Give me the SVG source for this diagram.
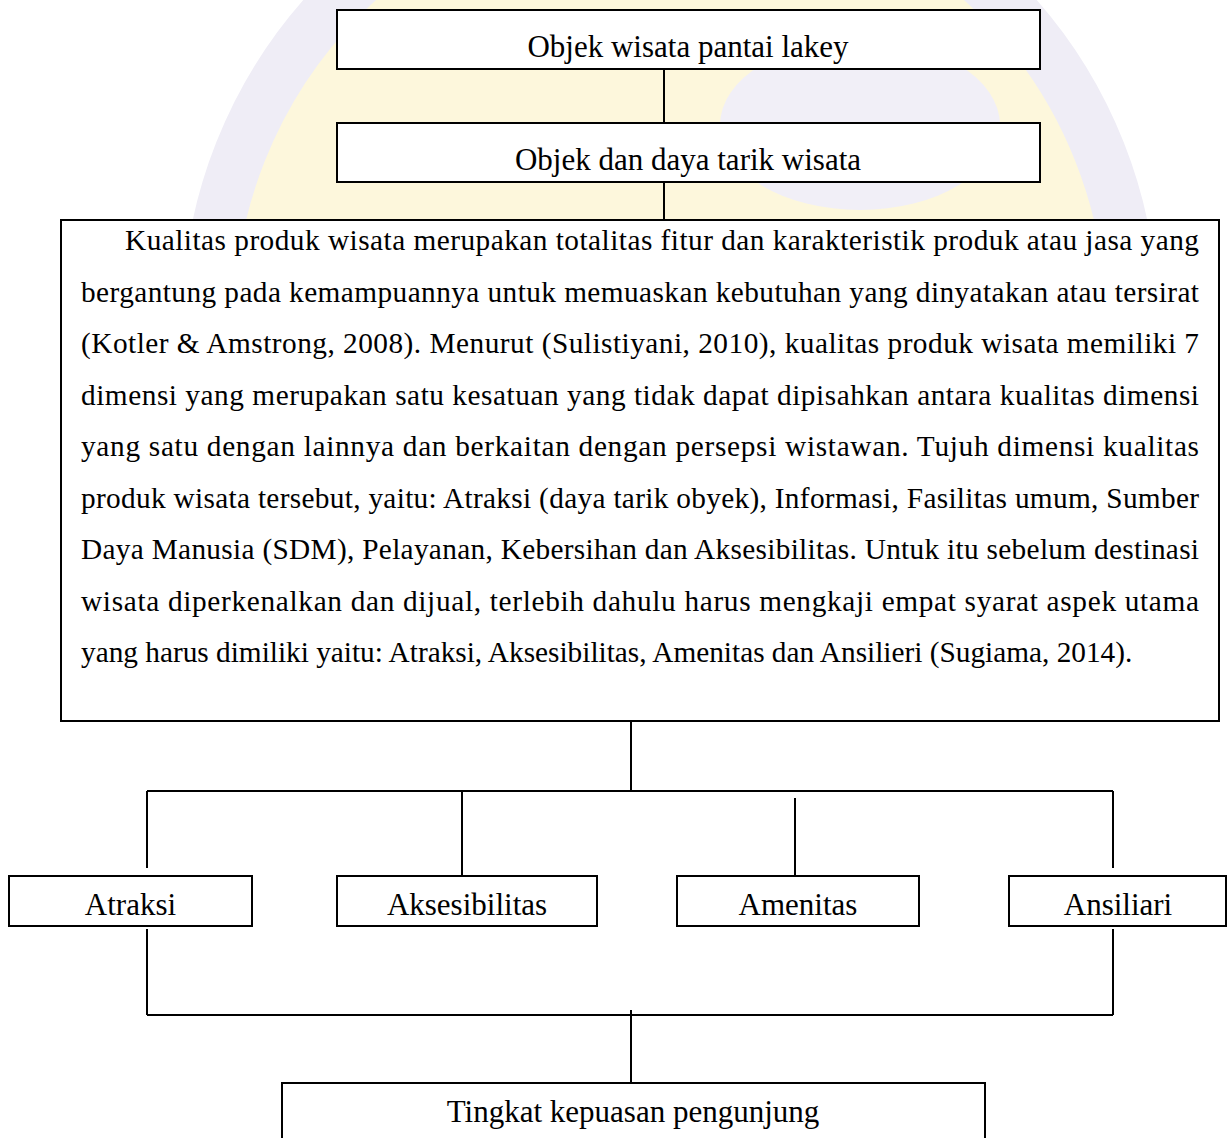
<svg xmlns="http://www.w3.org/2000/svg" width="1231" height="1138" viewBox="0 0 1231 1138">
<defs>
  <clipPath id="wmclip"><rect x="0" y="0" width="1231" height="221"/></clipPath>
</defs>
<style>
  .box { fill: #ffffff; stroke: #000; stroke-width: 2; }
  .lbl { font-family: "Liberation Serif", "Times New Roman", serif; font-size: 31px; fill: #000; text-anchor: middle; }
  .body { font-family: "Liberation Serif", "Times New Roman", serif; font-size: 29.3px; fill: #000; }
  .conn line { stroke: #000; stroke-width: 2; }
</style>
<rect x="0" y="0" width="1231" height="1138" fill="#ffffff"/>
<g id="watermark" clip-path="url(#wmclip)">
  <circle cx="670" cy="322" r="445" fill="#fdf7dc"/>
  <circle cx="670" cy="322" r="462" fill="none" stroke="#efedf6" stroke-width="52"/>
  <ellipse cx="860" cy="125" rx="140" ry="85" fill="#f1eff7"/>
</g>
<g id="connectors" class="conn">
  <line x1="664" y1="69" x2="664" y2="123"/>
  <line x1="664" y1="182" x2="664" y2="220"/>
  <line x1="631" y1="721" x2="631" y2="791"/>
  <line x1="147" y1="791" x2="1113" y2="791"/>
  <line x1="147" y1="791" x2="147" y2="868"/>
  <line x1="462" y1="791" x2="462" y2="876"/>
  <line x1="795" y1="798" x2="795" y2="876"/>
  <line x1="1113" y1="791" x2="1113" y2="868"/>
  <line x1="147" y1="929" x2="147" y2="1015"/>
  <line x1="1113" y1="929" x2="1113" y2="1015"/>
  <line x1="147" y1="1015" x2="1113" y2="1015"/>
  <line x1="631" y1="1010" x2="631" y2="1083"/>
</g>
<g id="node-objek-wisata">
  <rect class="box" x="337" y="10" width="703" height="59"/>
  <text class="lbl" x="688" y="57">Objek wisata pantai lakey</text>
</g>
<g id="node-objek-daya-tarik">
  <rect class="box" x="337" y="123" width="703" height="59"/>
  <text class="lbl" x="688" y="170">Objek dan daya tarik wisata</text>
</g>
<g id="node-kualitas">
  <rect class="box" x="61" y="220" width="1158" height="501"/>
  <text class="body" x="125" y="250" textLength="1074" lengthAdjust="spacing">Kualitas produk wisata merupakan totalitas fitur dan karakteristik produk atau jasa yang</text>
  <text class="body" x="81" y="301.5" textLength="1118" lengthAdjust="spacing">bergantung pada kemampuannya untuk memuaskan kebutuhan yang dinyatakan atau tersirat</text>
  <text class="body" x="81" y="353" textLength="1118" lengthAdjust="spacing">(Kotler &amp; Amstrong, 2008). Menurut (Sulistiyani, 2010), kualitas produk wisata memiliki 7</text>
  <text class="body" x="81" y="404.5" textLength="1118" lengthAdjust="spacing">dimensi yang merupakan satu kesatuan yang tidak dapat dipisahkan antara kualitas dimensi</text>
  <text class="body" x="81" y="456" textLength="1118" lengthAdjust="spacing">yang satu dengan lainnya dan berkaitan dengan persepsi wistawan. Tujuh dimensi kualitas</text>
  <text class="body" x="81" y="507.5" textLength="1118" lengthAdjust="spacing">produk wisata tersebut, yaitu: Atraksi (daya tarik obyek), Informasi, Fasilitas umum, Sumber</text>
  <text class="body" x="81" y="559" textLength="1118" lengthAdjust="spacing">Daya Manusia (SDM), Pelayanan, Kebersihan dan Aksesibilitas. Untuk itu sebelum destinasi</text>
  <text class="body" x="81" y="610.5" textLength="1118" lengthAdjust="spacing">wisata diperkenalkan dan dijual, terlebih dahulu harus mengkaji empat syarat aspek utama</text>
  <text class="body" x="81" y="662">yang harus dimiliki yaitu: Atraksi, Aksesibilitas, Amenitas dan Ansilieri (Sugiama, 2014).</text>
</g>
<g id="node-atraksi">
  <rect class="box" x="9" y="876" width="243" height="50"/>
  <text class="lbl" x="130.5" y="915">Atraksi</text>
</g>
<g id="node-aksesibilitas">
  <rect class="box" x="337" y="876" width="260" height="50"/>
  <text class="lbl" x="467" y="915">Aksesibilitas</text>
</g>
<g id="node-amenitas">
  <rect class="box" x="677" y="876" width="242" height="50"/>
  <text class="lbl" x="798" y="915">Amenitas</text>
</g>
<g id="node-ansiliari">
  <rect class="box" x="1009" y="876" width="217" height="50"/>
  <text class="lbl" x="1118" y="915">Ansiliari</text>
</g>
<g id="node-tingkat-kepuasan">
  <rect class="box" x="282" y="1083" width="703" height="100"/>
  <text class="lbl" x="633" y="1122">Tingkat kepuasan pengunjung</text>
</g>
</svg>
